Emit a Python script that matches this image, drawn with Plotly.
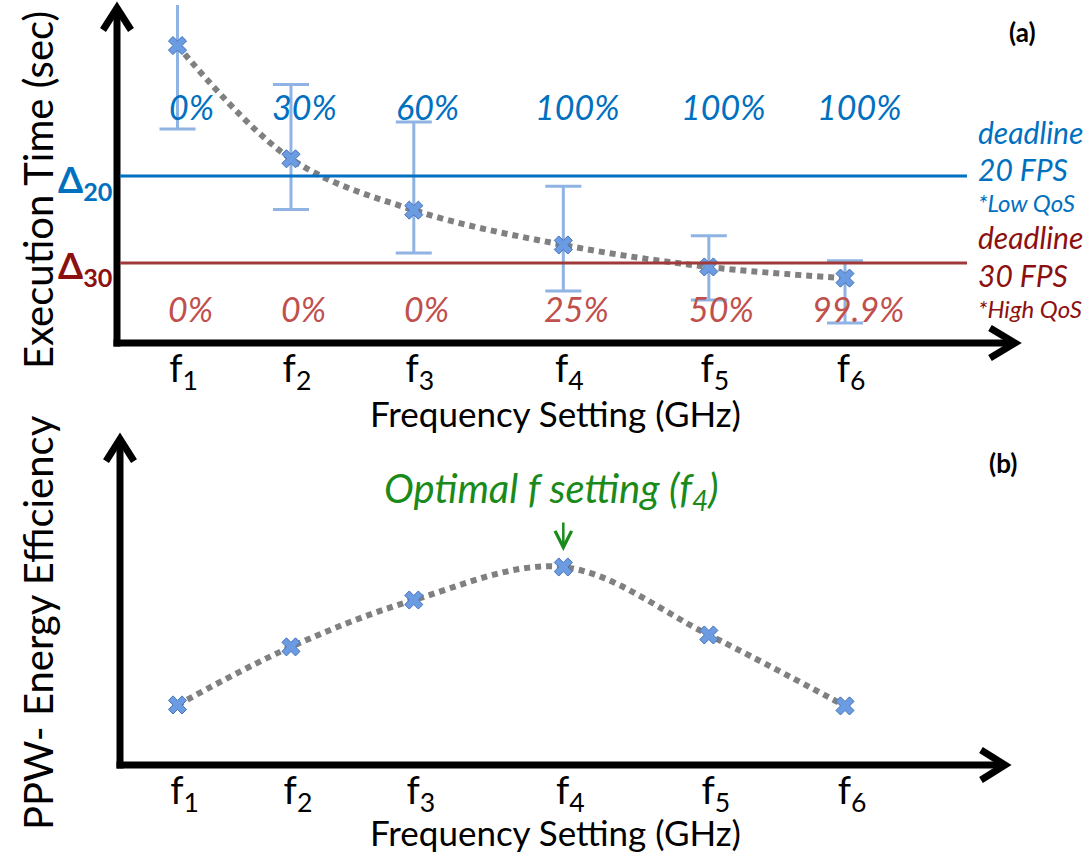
import plotly.graph_objects as go

# ---------------- data ----------------
freq_labels = ["f<sub>1</sub>", "f<sub>2</sub>", "f<sub>3</sub>", "f<sub>4</sub>", "f<sub>5</sub>", "f<sub>6</sub>"]
freq_pos = [1.0, 1.85, 2.77, 3.89, 4.98, 6.0]

exec_time = [8.8, 5.45, 3.93, 2.9, 2.25, 1.92]
err_plus = [1.26, 2.2, 2.61, 1.74, 0.92, 0.51]
err_minus = [2.47, 1.5, 1.27, 1.36, 0.98, 1.33]

deadline_20fps = 4.94
deadline_30fps = 2.37

qos_20fps = ["0%", "30%", "60%", "100%", "100%", "100%"]
qos_30fps = ["0%", "0%", "0%", "25%", "50%", "99.9%"]

ppw = [1.82, 3.58, 5.0, 6.0, 3.94, 1.79]

# ---------------- layout helpers ----------------
W, H = 1092, 853
FONT = "Lato"
BLUE = "#0070c0"
RED_TXT = "#c0504d"
DARK_RED = "#8c1010"
RED_LINE = "#a03a3a"
GREEN = "#1a8a1a"
MARK = "#6b9be0"
ERR = "#8fb4e3"
GREY = "#808080"


def px(x):
    return x / W


def py(y):
    return 1 - y / H


UNIT = 133.5   # pixels per frequency step
F1 = 177.5     # pixel position of f1


def xrange_for(left, right):
    return [1 - (F1 - left) / UNIT, 1 + (right - F1) / UNIT]


fig = go.Figure()

# ---- panel (a): execution time ----
fig.add_trace(go.Scatter(
    x=freq_pos, y=exec_time, mode="lines",
    line=dict(color=GREY, width=6, dash="6px,5px", shape="spline", smoothing=1.0),
    xaxis="x", yaxis="y", hoverinfo="skip", showlegend=False))
fig.add_trace(go.Scatter(
    x=freq_pos, y=exec_time, mode="markers",
    marker=dict(symbol="x", size=16, color=MARK, line=dict(color="#4573b8", width=1)),
    error_y=dict(type="data", symmetric=False, array=err_plus, arrayminus=err_minus,
                 color=ERR, thickness=3, width=18),
    xaxis="x", yaxis="y", showlegend=False))

# ---- panel (b): PPW ----
fig.add_trace(go.Scatter(
    x=freq_pos, y=ppw, mode="lines",
    line=dict(color=GREY, width=6, dash="6px,5px", shape="spline", smoothing=1.0),
    xaxis="x2", yaxis="y2", hoverinfo="skip", showlegend=False))
fig.add_trace(go.Scatter(
    x=freq_pos, y=ppw, mode="markers",
    marker=dict(symbol="x", size=16, color=MARK, line=dict(color="#4573b8", width=1)),
    xaxis="x2", yaxis="y2", showlegend=False))

tickfont = dict(family=FONT, size=38, color="black")
axis_common = dict(showgrid=False, zeroline=False, showline=False, ticks="",
                   fixedrange=True)

fig.update_layout(
    width=W, height=H,
    margin=dict(l=0, r=0, t=0, b=0),
    paper_bgcolor="white", plot_bgcolor="rgba(0,0,0,0)",
    showlegend=False,
    xaxis=dict(domain=[px(117), px(1018)], range=xrange_for(117, 1018),
               tickvals=freq_pos, ticktext=freq_labels, tickfont=tickfont,
               anchor="y", ticklabelstandoff=0, ticklabelshift=6, **axis_common),
    yaxis=dict(domain=[py(343), py(5)], range=[0, 10], showticklabels=False,
               anchor="x", **axis_common),
    xaxis2=dict(domain=[px(120), px(1008)], range=xrange_for(120, 1008),
                tickvals=freq_pos, ticktext=freq_labels, tickfont=tickfont,
                anchor="y2", ticklabelstandoff=0, ticklabelshift=7, **axis_common),
    yaxis2=dict(domain=[py(765), py(435)], range=[0, 10], showticklabels=False,
                anchor="x2", **axis_common),
)

shapes = []
AX_W = 7


def seg(x0, y0, x1, y1, color="black", width=AX_W):
    shapes.append(dict(type="line", xref="paper", yref="paper",
                       x0=px(x0), y0=py(y0), x1=px(x1), y1=py(y1),
                       line=dict(color=color, width=width), layer="above"))


def chevron(pts, width=AX_W):
    path = "M " + " L ".join(f"{px(a):.5f},{py(b):.5f}" for a, b in pts)
    shapes.append(dict(type="path", xref="paper", yref="paper", path=path,
                       line=dict(color="black", width=width), layer="above"))


# axes of panel (a)
seg(117, 346.5, 117, 9)
seg(113.5, 343, 1014, 343)
chevron([(103, 30), (117, 8), (131, 30)])
chevron([(990, 328), (1015, 343), (990, 358)])
# axes of panel (b)
seg(120, 768.5, 120, 439)
seg(116.5, 765, 1004, 765)
chevron([(106, 461), (120, 439), (134, 461)])
chevron([(981, 750), (1005, 765), (981, 780)])

# deadlines
shapes.append(dict(type="line", xref="paper", yref="y", x0=px(120), x1=px(967),
                   y0=deadline_20fps, y1=deadline_20fps, line=dict(color=BLUE, width=3)))
shapes.append(dict(type="line", xref="paper", yref="y", x0=px(120), x1=px(967),
                   y0=deadline_30fps, y1=deadline_30fps, line=dict(color=RED_LINE, width=3)))

fig.update_layout(shapes=shapes)

ann = []


def note(**kw):
    kw.setdefault("showarrow", False)
    kw.setdefault("xanchor", "center")
    kw.setdefault("yanchor", "middle")
    ann.append(kw)


# percentages
for xp, t in zip(freq_pos, qos_20fps):
    note(x=xp, y=7.0, xref="x", yref="y", text=f"<i>{t}</i>",
         xshift=14, font=dict(family=FONT, size=34, color=BLUE))
for xp, t in zip(freq_pos, qos_30fps):
    note(x=xp, y=1.03, xref="x", yref="y", text=f"<i>{t}</i>",
         xshift=13, font=dict(family=FONT, size=34, color=RED_TXT))

# deadline labels on the axis
note(x=px(114), y=deadline_20fps, xref="paper", yref="y", xanchor="right",
     yshift=-5, text="<b>Δ<sub>20</sub></b>", font=dict(family=FONT, size=36, color=BLUE))
note(x=px(114), y=deadline_30fps, xref="paper", yref="y", xanchor="right",
     yshift=-5, text="<b>Δ<sub>30</sub></b>", font=dict(family=FONT, size=36, color=DARK_RED))

# right-hand notes
right_notes = [
    ("deadline", 132, 30, BLUE), ("20 FPS", 169, 30, BLUE), ("*Low QoS", 203, 24, BLUE),
    ("deadline", 237, 30, DARK_RED), ("30 FPS", 275, 30, DARK_RED), ("*High QoS", 308, 24, DARK_RED),
]
for t, yy, fs, c in right_notes:
    note(x=px(976), y=py(yy), xref="paper", yref="paper", xanchor="left",
         text=f"<i>{t}</i>", font=dict(family=FONT, size=fs, color=c))

# panel tags
note(x=px(1022), y=py(32), xref="paper", yref="paper", text="<b>(a)</b>",
     font=dict(family=FONT, size=26, color="black"))
note(x=px(1003), y=py(463), xref="paper", yref="paper", text="<b>(b)</b>",
     font=dict(family=FONT, size=26, color="black"))

# axis titles
note(x=px(38), y=py(190), xref="paper", yref="paper", textangle=-90,
     text="Execution Time (sec)", font=dict(family=FONT, size=40, color="black"))
note(x=px(38), y=py(623), xref="paper", yref="paper", textangle=-90,
     text="PPW- Energy Efficiency", font=dict(family=FONT, size=40, color="black"))
note(x=px(555), y=py(413), xref="paper", yref="paper",
     text="Frequency Setting (GHz)", font=dict(family=FONT, size=35, color="black"))
note(x=px(555), y=py(832), xref="paper", yref="paper",
     text="Frequency Setting (GHz)", font=dict(family=FONT, size=35, color="black"))

# optimal setting note
note(x=px(551), y=py(490), xref="paper", yref="paper",
     text="<i>Optimal f setting (f<sub>4</sub>)</i>", font=dict(family=FONT, size=40, color=GREEN))
ann.append(dict(x=freq_pos[3], y=ppw[3], xref="x2", yref="y2", text="", showarrow=True,
                ax=0, ay=-46, standoff=16, arrowhead=5, arrowsize=1.3, arrowwidth=2.5,
                arrowcolor=GREEN))

fig.update_layout(annotations=ann)

fig.write_html("out.html")
